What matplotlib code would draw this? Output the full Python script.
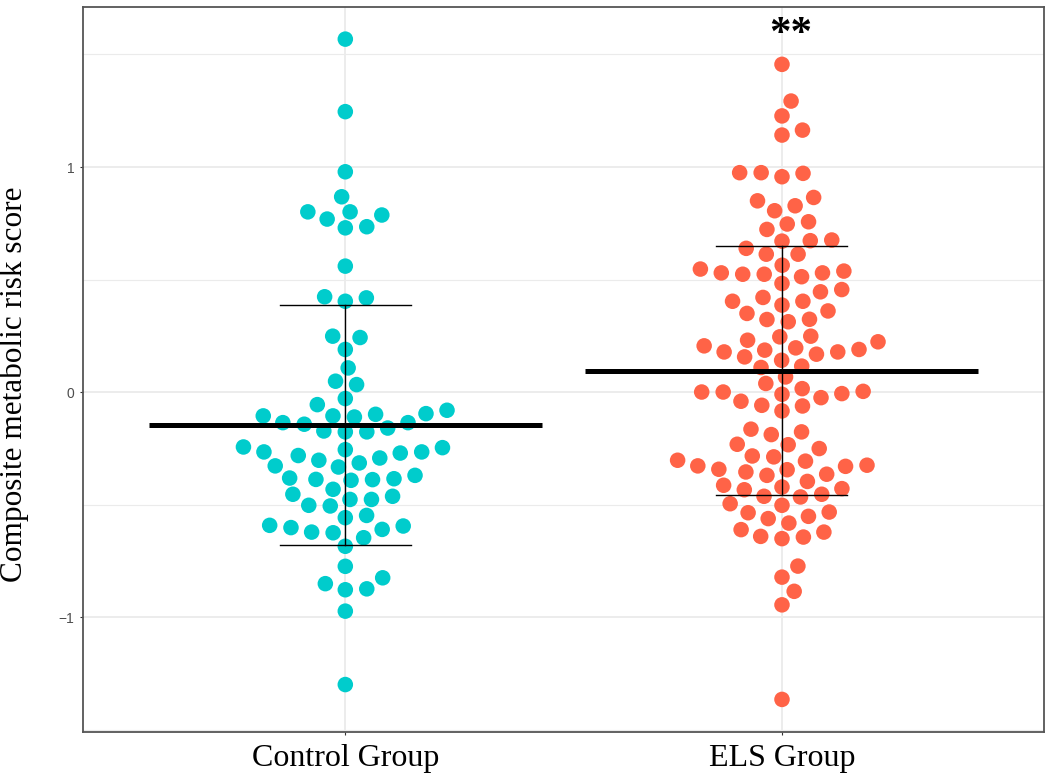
import numpy as np
import matplotlib
matplotlib.use("Agg")
import matplotlib.pyplot as plt

# ---------------- data ----------------
categories = ["Control Group", "ELS Group"]

control_values = [
    1.568, 1.246, 0.979, 0.868, 0.801, 0.801, 0.787, 0.769, 0.730, 0.735,
    0.560, 0.424, 0.404, 0.419,
    0.249, 0.243, 0.190, 0.108, 0.049, 0.034, -0.028, -0.055, -0.098, -0.105,
    -0.095, -0.105, -0.080, -0.110, -0.135, -0.142, -0.135, -0.159, -0.172, -0.176,
    -0.176, -0.243, -0.265, -0.255, -0.246, -0.265, -0.270, -0.281, -0.292, -0.302,
    -0.314, -0.332, -0.327, -0.381, -0.387, -0.391, -0.388, -0.384, -0.369, -0.431,
    -0.453, -0.476, -0.476, -0.462, -0.502, -0.505, -0.547, -0.557, -0.591, -0.601,
    -0.621, -0.624, -0.646, -0.609, -0.594, -0.684,
    -0.773, -0.850, -0.877, -0.873, -0.824, -0.972, -1.298,
]

els_values = [
    1.456, 1.293, 1.227, 1.164, 1.142, 0.975, 0.975, 0.957, 0.972, 0.865,
    0.828, 0.850, 0.806, 0.757, 0.747, 0.723, 0.676, 0.673, 0.671, 0.639,
    0.613, 0.613, 0.564, 0.547, 0.530, 0.524, 0.524, 0.513, 0.530, 0.538,
    0.483, 0.456, 0.446, 0.404, 0.387, 0.404, 0.421, 0.361, 0.324, 0.313,
    0.323, 0.350, 0.224, 0.187, 0.179, 0.231, 0.197, 0.206, 0.246, 0.249,
    0.157, 0.142, 0.169, 0.179, 0.190, 0.110, 0.116, 0.068, 0.039, 0.016,
    0.001, 0.001, -0.040, -0.058, -0.009, -0.083, -0.061, -0.024, -0.006, 0.004,
    -0.164, -0.188, -0.176, -0.231, -0.233, -0.250, -0.283, -0.287, -0.302, -0.327,
    -0.342, -0.354, -0.369, -0.344, -0.306, -0.364, -0.329, -0.324, -0.413, -0.433,
    -0.462, -0.421, -0.396, -0.465, -0.453, -0.428, -0.495, -0.502, -0.535, -0.532,
    -0.561, -0.551, -0.581, -0.610, -0.640, -0.650, -0.643, -0.621,
    -0.772, -0.821, -0.884, -0.944, -1.364,
]

group_means = [-0.147, 0.095]
group_sds = [0.533, 0.553]
group_colors = ["#00CCCC", "#FF6347"]
yticks = [-1, 0, 1]
significance_label = "**"

# ---------------- figure ----------------
W, H, DPI = 1050, 784, 100
fig = plt.figure(figsize=(W / DPI, H / DPI), dpi=DPI)
left, right, top, bottom = 83.3, 1044.0, 6.7, 732.3
ax = fig.add_axes([left / W, 1 - bottom / H, (right - left) / W, (bottom - top) / H])

ax.set_xlim(0.4, 2.6)
ax.set_ylim(-1.51, 1.712)
ax.set_facecolor("white")

# grid
grid_col = "#EBEBEB"
for v in [-1.5, -0.5, 0.5, 1.5]:
    ax.axhline(v, color=grid_col, lw=0.8, zorder=0)
for v in yticks:
    ax.axhline(v, color=grid_col, lw=1.3, zorder=0)
for i in range(len(categories)):
    ax.axvline(i + 1, color=grid_col, lw=1.3, zorder=0)


def swarm_offsets(yvals, dx_px, dy_px):
    """Beeswarm (ascending priority) in display pixel space; returns x offsets in pixels."""
    ypx = ax.transData.transform(np.column_stack([np.ones(len(yvals)), yvals]))[:, 1]
    order = np.argsort(yvals, kind="stable")
    px_list, py_list = [], []
    xs = np.zeros(len(yvals))
    for i in order:
        y = ypx[i]
        cands = [0.0]
        for px, py in zip(px_list, py_list):
            d = abs(py - y) / dy_px
            if d < 1:
                off = dx_px * np.sqrt(1 - d * d)
                cands += [px + off, px - off]
        cands = sorted(cands, key=lambda c: (round(abs(c), 6), -c))
        chosen = cands[-1]
        for c in cands:
            ok = True
            for px, py in zip(px_list, py_list):
                if ((c - px) / dx_px) ** 2 + ((y - py) / dy_px) ** 2 < 1 - 1e-6:
                    ok = False
                    break
            if ok:
                chosen = c
                break
        xs[i] = chosen
        px_list.append(chosen)
        py_list.append(y)
    return xs, ypx


for gi, vals in enumerate([control_values, els_values]):
    vals = np.asarray(vals, dtype=float)
    offs, ypx = swarm_offsets(vals, 21.5, 16.4)
    cx = ax.transData.transform((gi + 1, 0))[0]
    pts = ax.transData.inverted().transform(np.column_stack([cx + offs, ypx]))
    ax.scatter(pts[:, 0], pts[:, 1], s=125, color=group_colors[gi],
               edgecolors="none", zorder=2)

# mean lines and SD error bars
for gi, (m, sd) in enumerate(zip(group_means, group_sds)):
    x = gi + 1
    ax.plot([x - 0.45, x + 0.45], [m, m], color="black", lw=3.6,
            solid_capstyle="butt", zorder=4)
    ax.plot([x, x], [m - sd, m + sd], color="black", lw=1.0, zorder=3)
    for yv in (m - sd, m + sd):
        ax.plot([x - 0.15, x + 0.15], [yv, yv], color="black", lw=1.0, zorder=3)

# significance marker
ax.text(2.02, 1.585, significance_label, ha="center", va="center",
        fontsize=31, fontweight="bold", family="Liberation Serif", color="black")

# axes styling
ax.set_xticks([1, 2])
ax.set_xticklabels(categories, family="Liberation Serif", fontsize=23, color="black")
ax.set_yticks(yticks)
ax.set_yticklabels([str(t).replace("-", "\u2212") for t in yticks],
                   family="Liberation Sans", fontsize=10, color="#4D4D4D")
ax.tick_params(axis="x", length=2.5, width=0.8, color="#333333", pad=6)
ax.tick_params(axis="y", length=2.5, width=0.8, color="#333333", pad=4)
for sp in ax.spines.values():
    sp.set_color("#555555")
    sp.set_linewidth(1.3)

ax.set_ylabel("Composite metabolic risk score", family="Liberation Serif",
              fontsize=22.5, color="black")
ax.yaxis.set_label_coords(-0.057, 0.48)

fig.savefig("out.png", dpi=DPI, facecolor="white")
